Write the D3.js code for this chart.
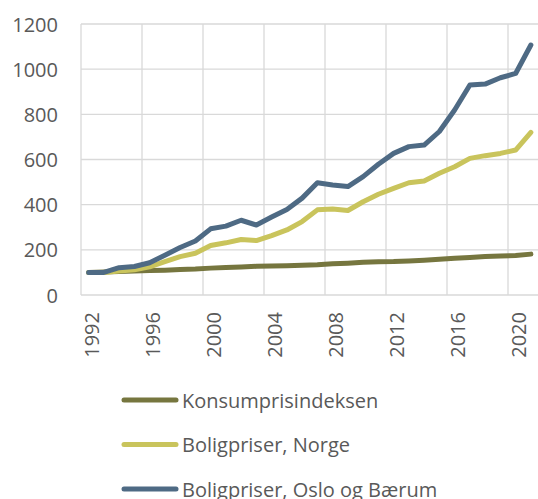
<!DOCTYPE html>
<html>
<head>
<meta charset="utf-8">
<script src="https://cdn.jsdelivr.net/npm/d3@7"></script>
<style>
  body { margin: 0; background: #fff; }
  svg { display: block; font-family: "Open Sans", "Noto Sans", sans-serif; }
</style>
</head>
<body>
<svg id="chart" width="538" height="499"></svg>
<script>
var years = d3.range(1992, 2022);
var yTicks = [0, 200, 400, 600, 800, 1000, 1200];
var seriesNames = ["Konsumprisindeksen", "Boligpriser, Norge", "Boligpriser, Oslo og Bærum"];

// KPI, 1992 = 100
var kpi = [100, 102, 104, 106, 108, 110, 113, 115, 119, 122, 124, 127, 128, 130, 132, 134, 138, 141, 145, 147, 148, 151, 154, 158, 163, 166, 170, 173, 175, 181];
var norge = [100, 100, 106, 112, 125, 148, 170, 185, 219, 231, 246, 241, 263, 288, 325, 377, 381, 374, 413, 446, 472, 497, 505, 539, 568, 605, 617, 627, 642, 720];
var oslo = [100, 100, 121, 126, 143, 176, 210, 239, 293, 305, 331, 310, 345, 379, 429, 497, 487, 480, 524, 579, 627, 657, 664, 724, 819, 930, 934, 962, 981, 1107];

var colors = ["#76763f", "#c9c45c", "#4e6a84"];
var series = [kpi, norge, oslo];

var svg = d3.select("#chart");
var plotLeft = 81, plotTop = 24, plotBottom = 295, plotW = 30 * 15.25;

var x = d3.scaleBand().domain(years).range([plotLeft, plotLeft + plotW]).padding(0);
var y = d3.scaleLinear().domain([0, 1200]).range([plotBottom, plotTop]);
var xc = function(yr) { return x(yr) + x.bandwidth() / 2; };

var grid = svg.append("g");

// horizontal gridlines
grid.selectAll("line.h")
  .data(yTicks).enter()
  .append("line")
  .attr("x1", plotLeft)
  .attr("x2", plotLeft + plotW)
  .attr("y1", function(d) { return y(d); })
  .attr("y2", function(d) { return y(d); })
  .attr("stroke", "#d9d9d9")
  .attr("stroke-width", 1.3);

// vertical gridlines every 4th year
var tickYears = years.filter(function(d) { return (d - 1992) % 4 === 0; });
grid.selectAll("line.v")
  .data(tickYears).enter()
  .append("line")
  .attr("x1", function(d) { return x(d); })
  .attr("x2", function(d) { return x(d); })
  .attr("y1", plotTop)
  .attr("y2", plotBottom)
  .attr("stroke", "#d9d9d9")
  .attr("stroke-width", 1.3);

// y labels
svg.append("g").selectAll("text")
  .data(yTicks).enter()
  .append("text")
  .attr("x", 58)
  .attr("y", function(d) { return y(d); })
  .attr("text-anchor", "end")
  .attr("dominant-baseline", "central")
  .attr("font-size", 20)
  .attr("fill", "#595959")
  .text(function(d) { return d; });

// x labels, rotated
svg.append("g").selectAll("text")
  .data(tickYears).enter()
  .append("text")
  .attr("transform", function(d) { return "translate(" + (xc(d) + 3) + ",312) rotate(-90)"; })
  .attr("text-anchor", "end")
  .attr("dominant-baseline", "central")
  .attr("font-size", 20)
  .attr("fill", "#595959")
  .text(function(d) { return d; });

var line = d3.line()
  .x(function(d, i) { return xc(years[i]); })
  .y(function(d) { return y(d); });

svg.append("g").selectAll("path")
  .data(series).enter()
  .append("path")
  .attr("d", line)
  .attr("fill", "none")
  .attr("stroke", function(d, i) { return colors[i]; })
  .attr("stroke-width", 5)
  .attr("stroke-linejoin", "round")
  .attr("stroke-linecap", "round");

// legend
var legend = svg.append("g").selectAll("g")
  .data(seriesNames).enter()
  .append("g")
  .attr("transform", function(d, i) { return "translate(0," + (400 + i * 44.5) + ")"; });

legend.append("line")
  .attr("x1", 124)
  .attr("x2", 176)
  .attr("stroke", function(d, i) { return colors[i]; })
  .attr("stroke-width", 5)
  .attr("stroke-linecap", "round");

legend.append("text")
  .attr("x", 182)
  .attr("dominant-baseline", "central")
  .attr("font-size", 20)
  .attr("fill", "#595959")
  .text(function(d) { return d; });
</script>
</body>
</html>
